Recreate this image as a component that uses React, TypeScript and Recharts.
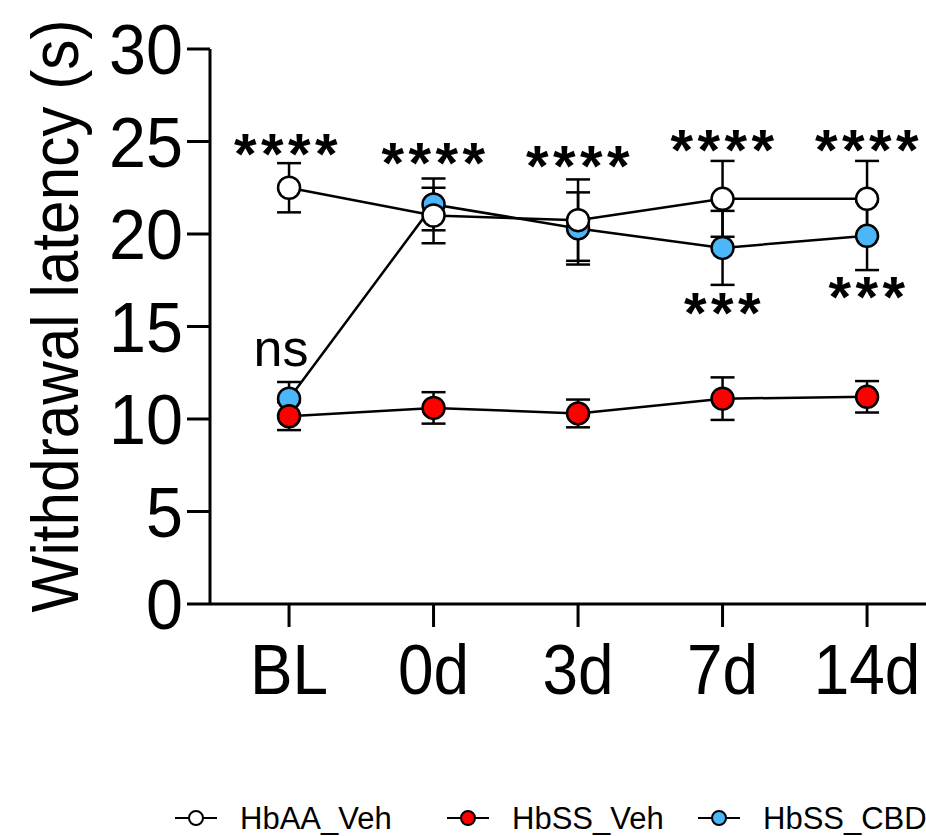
import React from "react";
import { LineChart, Line, XAxis, YAxis, ErrorBar, ReferenceDot } from "recharts";

const categories = ["BL", "0d", "3d", "7d", "14d"];
const hbaaVeh = [22.5, 21.0, 20.75, 21.9, 21.9];
const hbaaVehErr = [1.33, 1.5, 2.2, 2.05, 2.05];
const hbssVeh = [10.15, 10.6, 10.3, 11.1, 11.2];
const hbssVehErr = [0.75, 0.85, 0.75, 1.15, 0.85];
const hbssCbd = [11.1, 21.6, 20.3, 19.25, 19.9];
const hbssCbdErr = [0.9, 1.4, 1.95, 2.0, 1.85];
const yTicks = [0, 5, 10, 15, 20, 25, 30];

// significance marks: category index, height of the mark, text
const sigCat = [0, 1, 2, 3, 4, 3, 4, 0];
const sigY = [24.67, 24.14, 24.01, 24.89, 24.89, 16.04, 16.9, 13.62];
const sigText = ["****", "****", "****", "****", "****", "***", "***", "ns"];

const data = categories.map((c, i) => ({
  idx: i,
  cat: c,
  aa: hbaaVeh[i],
  aaErr: hbaaVehErr[i],
  ss: hbssVeh[i],
  ssErr: hbssVehErr[i],
  cbd: hbssCbd[i],
  cbdErr: hbssCbdErr[i],
}));

const FONT = "'Liberation Sans', Arial, sans-serif";
const WHITE = "#FFFFFF";
const RED = "#FF0000";
const BLUE = "#4DB6F9";

const legendItems = [
  { name: "HbAA_Veh", fill: WHITE, left: 175 },
  { name: "HbSS_Veh", fill: RED, left: 447 },
  { name: "HbSS_CBD", fill: BLUE, left: 698 },
];

const XTick = (p: any) => (
  <text
    transform={`translate(${p.x},${p.y + 65}) scale(0.9,1)`}
    textAnchor="middle"
    fontFamily={FONT}
    fontSize={71}
    fill="#000"
  >
    {categories[p.payload.value]}
  </text>
);

const YTick = (p: any) => (
  <text
    transform={`translate(${p.x},${p.y + 25}) scale(0.95,1)`}
    textAnchor="end"
    fontFamily={FONT}
    fontSize={70}
    fill="#000"
  >
    {p.payload.value}
  </text>
);

const SigMark = (text: string, cat: number) => (p: any) =>
  text === "ns" ? (
    <text x={p.cx - 8} y={p.cy + 13.5} textAnchor="middle" fontFamily={FONT} fontSize={52} fill="#000">
      {text}
    </text>
  ) : (
    <text
      x={p.cx + 2 - (cat === 0 ? 3 : 0)}
      y={p.cy + 26}
      textAnchor="middle"
      fontFamily={FONT}
      fontWeight="bold"
      fontSize={58}
      letterSpacing={4.5}
      fill="#000"
    >
      {text}
    </text>
  );

const dotStyle = (fill: string) => ({ r: 11, fill, stroke: "#000", strokeWidth: 2.5 });

export default function App() {
  return (
    <div style={{ position: "absolute", left: 0, top: 0, width: 926, height: 836, overflow: "hidden", background: "#fff" }}>
      <LineChart width={1000} height={836} data={data} margin={{ top: 49, right: 0, left: 0, bottom: 132 }}>
        <XAxis
          type="number"
          dataKey="idx"
          domain={[-0.547, 4.92]}
          ticks={[0, 1, 2, 3, 4]}
          height={100}
          tickSize={23}
          tickMargin={2}
          axisLine={{ stroke: "#000", strokeWidth: 3 }}
          tickLine={{ stroke: "#000", strokeWidth: 3 }}
          tick={<XTick />}
        />
        <YAxis
          type="number"
          domain={[0, 30]}
          ticks={yTicks}
          width={210}
          tickSize={23}
          tickMargin={4}
          axisLine={{ stroke: "#000", strokeWidth: 3 }}
          tickLine={{ stroke: "#000", strokeWidth: 3 }}
          tick={<YTick />}
        />
        <Line dataKey="cbd" stroke="#000" strokeWidth={2.5} dot={dotStyle(BLUE)} activeDot={false} isAnimationActive={false}>
          <ErrorBar dataKey="cbdErr" width={12} stroke="#000" strokeWidth={2.5} direction="y" />
        </Line>
        <Line dataKey="ss" stroke="#000" strokeWidth={2.5} dot={dotStyle(RED)} activeDot={false} isAnimationActive={false}>
          <ErrorBar dataKey="ssErr" width={12} stroke="#000" strokeWidth={2.5} direction="y" />
        </Line>
        <Line dataKey="aa" stroke="#000" strokeWidth={2.5} dot={dotStyle(WHITE)} activeDot={false} isAnimationActive={false}>
          <ErrorBar dataKey="aaErr" width={12} stroke="#000" strokeWidth={2.5} direction="y" />
        </Line>
        {sigText.map((t, i) => (
          <ReferenceDot key={i} x={sigCat[i]} y={sigY[i]} r={0} shape={SigMark(t, sigCat[i])} />
        ))}
      </LineChart>
      <svg width={926} height={836} style={{ position: "absolute", left: 0, top: 0, pointerEvents: "none" }}>
        <text
          transform="translate(78,316) rotate(-90) scale(0.9,1)"
          textAnchor="middle"
          fontFamily={FONT}
          fontSize={67}
          fill="#000"
        >
          Withdrawal latency (s)
        </text>
        {legendItems.map((it) => (
          <g key={it.name}>
            <line x1={it.left} y1={818} x2={it.left + 42} y2={818} stroke="#000" strokeWidth={2} />
            <circle cx={it.left + 21} cy={818} r={7} fill={it.fill} stroke="#000" strokeWidth={2} />
            <text x={it.left + 65} y={829} fontFamily={FONT} fontSize={31} fill="#000">
              {it.name}
            </text>
          </g>
        ))}
      </svg>
    </div>
  );
}
